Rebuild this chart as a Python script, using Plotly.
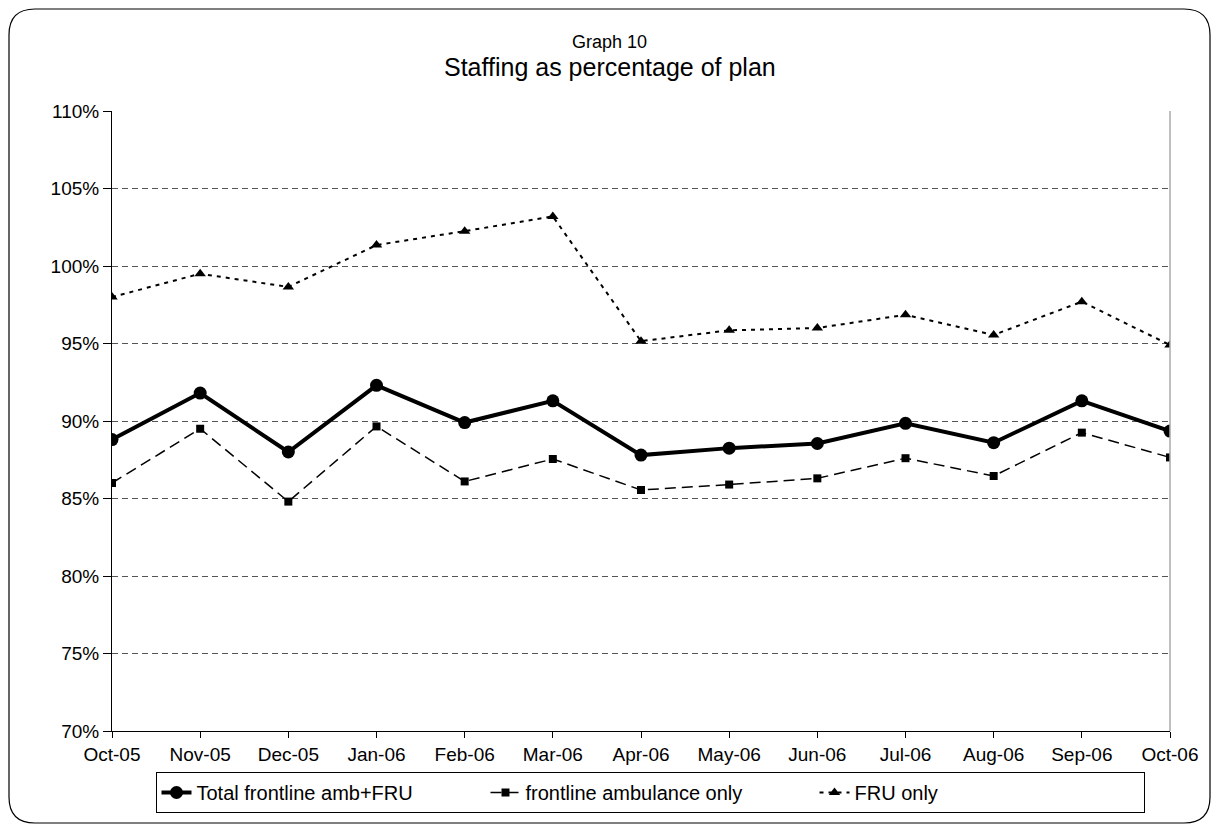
import plotly.graph_objects as go

months = ["Oct-05", "Nov-05", "Dec-05", "Jan-06", "Feb-06", "Mar-06", "Apr-06",
          "May-06", "Jun-06", "Jul-06", "Aug-06", "Sep-06", "Oct-06"]
total = [88.8, 91.8, 88.0, 92.3, 89.9, 91.3, 87.8, 88.25, 88.55, 89.85, 88.6, 91.3, 89.35]
ambulance = [86.0, 89.5, 84.8, 89.65, 86.1, 87.55, 85.55, 85.9, 86.3, 87.6, 86.45, 89.25, 87.65]
fru = [98.0, 99.5, 98.65, 101.35, 102.25, 103.2, 95.15, 95.85, 96.0, 96.85, 95.55, 97.7, 94.9]
y_ticks = [70, 75, 80, 85, 90, 95, 100, 105, 110]
y_tick_text = [f"{v}%" for v in y_ticks]

# page body adds an 8px offset; work in screen pixels and shift
OFF = 8
W, H = 1219 - 2 * OFF, 830 - OFF
L, R, T, B = 112 - OFF, 1170 - OFF, 111 - OFF, 731 - OFF
FONT = "Liberation Sans, Arial, sans-serif"

def px(x):
    return (x - OFF - L) / (R - L)

def py(y):
    return (B - (y - OFF)) / (B - T)

fig = go.Figure()
fig.add_trace(go.Scatter(
    x=months, y=total, name="Total frontline amb+FRU", mode="lines+markers",
    line=dict(color="black", width=4),
    marker=dict(symbol="circle", size=13, color="black")))
fig.add_trace(go.Scatter(
    x=months, y=ambulance, name="frontline ambulance only", mode="lines+markers",
    line=dict(color="black", width=1.5, dash="11px,6px"),
    marker=dict(symbol="square", size=8, color="black")))
fig.add_trace(go.Scatter(
    x=months, y=fru, name="FRU only", mode="lines+markers",
    line=dict(color="black", width=2, dash="4px,5px"),
    marker=dict(symbol="triangle-up", size=10, color="black")))

# outer rounded border
x0, x1, y0, y1 = px(9), px(1210), py(9), py(823)
rx, ry = 26 / (R - L), 26 / (B - T)
path = (f"M {x0+rx},{y0} L {x1-rx},{y0} Q {x1},{y0} {x1},{y0-ry} "
        f"L {x1},{y1+ry} Q {x1},{y1} {x1-rx},{y1} "
        f"L {x0+rx},{y1} Q {x0},{y1} {x0},{y1+ry} "
        f"L {x0},{y0-ry} Q {x0},{y0} {x0+rx},{y0} Z")
shapes = [
    dict(type="path", xref="paper", yref="paper", path=path,
         line=dict(color="black", width=1.2), layer="below"),
    dict(type="line", xref="paper", yref="paper", x0=1, x1=1, y0=0, y1=1,
         line=dict(color="#aaaaaa", width=1.5)),
]

fig.update_layout(
    width=W, height=H,
    margin=dict(l=L, r=W - R, t=T, b=H - B, autoexpand=False),
    paper_bgcolor="white", plot_bgcolor="white",
    font=dict(family=FONT, size=19, color="black"),
    shapes=shapes,
    annotations=[
        dict(text="Graph 10", xref="paper", yref="paper", x=px(609), y=py(42),
             showarrow=False, font=dict(size=18, family=FONT), xanchor="center", yanchor="middle"),
        dict(text="Staffing as percentage of plan", xref="paper", yref="paper",
             x=px(610), y=py(67), showarrow=False, font=dict(size=25, family=FONT),
             xanchor="center", yanchor="middle"),
    ],
    xaxis=dict(
        type="category", range=[0, 12], showgrid=False, showline=True,
        linecolor="black", linewidth=1, ticks="outside", ticklen=6,
        tickcolor="black", tickfont=dict(size=19, family=FONT), zeroline=False,
    ),
    yaxis=dict(
        range=[70, 110], tickvals=y_ticks, ticktext=y_tick_text,
        showline=True, linecolor="black", linewidth=1, ticks="outside",
        ticklen=8, tickcolor="black", showgrid=True, gridcolor="#555555",
        griddash="6px,4px", gridwidth=1, tickfont=dict(size=19, family=FONT),
        zeroline=False,
    ),
    showlegend=True,
    legend=dict(
        orientation="h", x=px(650), xanchor="center", y=py(772), yanchor="top",
        bordercolor="black", borderwidth=1, bgcolor="white",
        font=dict(size=20, family=FONT), entrywidth=284, entrywidthmode="pixels",
        itemwidth=30, tracegroupgap=0,
    ),
)

fig.write_html("out.html")
